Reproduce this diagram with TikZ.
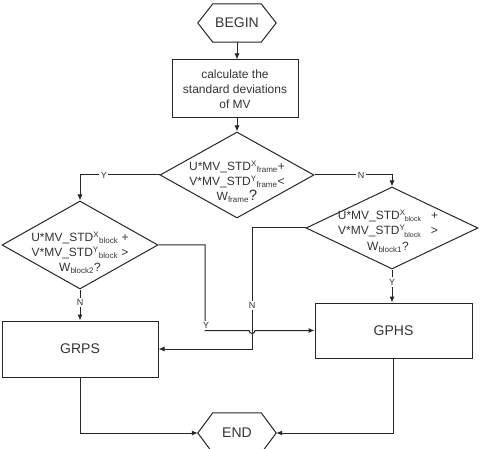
\documentclass[tikz,border=0pt]{standalone}
\usepackage{fontspec}
\setmainfont{Liberation Sans}
\usetikzlibrary{arrows.meta,shapes.geometric,calc}
\newcommand\sps[2]{\textsuperscript{#1}\textsubscript{#2}}
\newcommand\stk[2]{\textsuperscript{#1}\kern-1pt\raisebox{-2.5pt}{\fontsize{7}{7}\selectfont #2}}
\begin{document}
\begin{tikzpicture}[x=1pt,y=-1pt,
  line/.style={draw=black!85,line width=1pt},
  arr/.style={line,-{Latex[length=6pt,width=5pt]}},
  box/.style={line,rectangle,inner sep=0pt,align=center,text=black!80},
  dia/.style={line,diamond,inner sep=0pt},
  dtext/.style={align=center,text=black!80,font=\fontsize{12}{15}\selectfont},
  hexlbl/.style={inner sep=0pt,text=black!80,font=\fontsize{14}{16}\selectfont},
  lbl/.style={fill=white,inner sep=1.5pt,text=black!80,font=\fontsize{9}{10}\selectfont},
]
\useasboundingbox (0,0) rectangle (482,449);
% BEGIN
\node[hexlbl,minimum width=78pt,minimum height=38pt] (begin) at (237,23) {BEGIN};
\draw[line] (begin.west) -- ([xshift=15pt]begin.north west) -- ([xshift=-15pt]begin.north east) -- (begin.east) -- ([xshift=-15pt]begin.south east) -- ([xshift=15pt]begin.south west) -- cycle;
% calc
\node[box,minimum width=126pt,minimum height=58pt,font=\fontsize{12}{15}\selectfont] (calc) at (235,89) {calculate the\\standard deviations\\of MV};
% diamonds
\node[dia,minimum width=154pt,minimum height=86pt,
  label={[dtext,yshift=-7pt]center:U*MV\_STD\sps{X}{frame}+\\V*MV\_STD\sps{Y}{frame}<\\W\textsubscript{frame}{\fontsize{15}{15}\selectfont ?}}] (d1) at (237,175) {};
\node[dia,minimum width=156pt,minimum height=88pt,
  label={[dtext,yshift=-8pt]center:U*MV\_STD\sps{X}{block} +\\V*MV\_STD\sps{Y}{block} >\\W\textsubscript{block2}?}] (d2) at (80,245) {};
\node[dia,minimum width=172pt,minimum height=82pt,
  label={[dtext,font=\fontsize{12}{15.5}\selectfont,yshift=-3pt,xshift=-4pt]center:U*MV\_STD\stk{X}{block} \ \ +\\V*MV\_STD\stk{Y}{block} \ \ >\\W\textsubscript{block1}?}] (d3) at (392,228) {};
% process boxes
\node[box,minimum width=156pt,minimum height=56pt,font=\fontsize{14}{16}\selectfont] (grps) at (80,349) {GRPS};
\node[box,minimum width=157pt,minimum height=55pt,font=\fontsize{14}{16}\selectfont] (gphs) at (393.5,330.5) {GPHS};
% END
\node[hexlbl,minimum width=78pt,minimum height=40pt] (end) at (237,433) {END};
\draw[line] (end.west) -- ([xshift=15pt]end.north west) -- ([xshift=-15pt]end.north east) -- (end.east) -- ([xshift=-15pt]end.south east) -- ([xshift=15pt]end.south west) -- cycle;
% connectors
\coordinate (ycol) at (205,245);
\coordinate (ncol) at (252,228);
\draw[arr] (begin.south) -- (begin.south |- calc.north);
\draw[arr] (calc.south -| d1.north) -- (d1.north);
\draw[arr] (d1.west) -- node[lbl,pos=0.7] (ly1) {Y} (d1.west -| d2.north) -- (d2.north);
\draw[arr] (d1.east) -- node[lbl,pos=0.6] (ln1) {N} (d1.east -| d3.north) -- (d3.north);
\draw[arr] (d2.south) -- node[lbl,pos=0.42] (ln2) {N} (grps.north);
\draw[arr] (d3.south) -- node[lbl,pos=0.38] (ly3) {Y} (d3.south |- gphs.north);
\draw[arr] (d3.west) -- (d3.west -| ncol) -- node[lbl,pos=0.64] (ln3) {N} (ncol |- grps.east) -- (grps.east);
\draw[arr] (d2.east) -- (d2.east -| ycol) -- (ycol |- gphs.west) -- ($(ncol |- gphs.west)+(-3,0)$) arc[start angle=180,end angle=360,radius=3pt] -- (gphs.west);
\node[lbl] (ly2) at ($(ycol |- gphs.west)+(1,-5)$) {Y};
\draw[arr] (grps.south) -- (grps.south |- end.west) -- (end.west);
\draw[arr] (gphs.south) -- (gphs.south |- end.east) -- (end.east);
\end{tikzpicture}
\end{document}
